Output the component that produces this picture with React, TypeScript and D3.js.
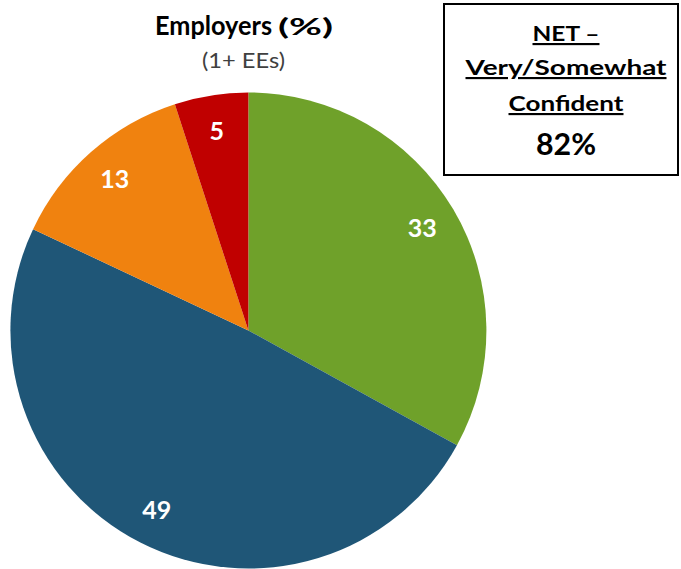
import React from "react";
import * as d3 from "d3";

const categories = ["Very confident", "Somewhat confident", "Not too confident", "Not at all confident"];
const values = [33, 49, 13, 5];
const colors = ["#6FA12A", "#1F5677", "#F0820F", "#C00000"];
const netLines = ["NET –", "Very/Somewhat", "Confident"];
const netValue = "82%";

const W = 681;
const H = 569;
const cx = 248.4;
const cy = 330.5;
const R = 238;
const labelR = 202;

export default function App() {
  const pie = d3.pie<number>().sort(null).value((d) => d)(values);
  const arc = d3.arc<d3.PieArcDatum<number>>().innerRadius(0).outerRadius(R);
  const labelArc = d3.arc<d3.PieArcDatum<number>>().innerRadius(labelR).outerRadius(labelR);
  const font = "Lato, 'Open Sans', sans-serif";

  const netLineY = [41, 75, 111];
  const netLineW = [67, 201, 115];

  return (
    <svg
      width={W}
      height={H}
      viewBox={`0 0 ${W} ${H}`}
      style={{ position: "absolute", left: 0, top: 0, background: "#fff" }}
    >
      <g transform={`translate(${cx},${cy})`}>
        {pie.map((d, i) => (
          <path key={categories[i]} d={arc(d) || ""} fill={colors[i]} />
        ))}
        {pie.map((d, i) => {
          const [x, y] = labelArc.centroid(d);
          return (
            <text
              key={"l" + i}
              x={x}
              y={y}
              dy="0.36em"
              textAnchor="middle"
              fill="#fff"
              fontFamily={font}
              fontWeight={700}
              fontSize={25}
            >
              {values[i]}
            </text>
          );
        })}
      </g>

      <text x={155} y={35} fontFamily={font} fontWeight={700} fontSize={26.5} fill="#000" textLength={117} lengthAdjust="spacingAndGlyphs">
        Employers
      </text>
      <text x={278} y={35} fontFamily={font} fontWeight={700} fontSize={23} fill="#000" textLength={55} lengthAdjust="spacingAndGlyphs">
        (%)
      </text>
      <text x={243.5} y={68} textAnchor="middle" fontFamily={font} fontSize={21} fill="#404040" textLength={83} lengthAdjust="spacingAndGlyphs">
        (1+ EEs)
      </text>

      <rect x={444} y={4} width={234} height={171} fill="#fff" stroke="#000" strokeWidth={2} />
      {netLines.map((t, i) => (
        <text
          key={t}
          x={566}
          y={netLineY[i]}
          textAnchor="middle"
          fontFamily={font}
          fontWeight={700}
          fontSize={21.5}
          fill="#000"
          textDecoration="underline"
          textLength={netLineW[i]}
          lengthAdjust="spacingAndGlyphs"
        >
          {t}
        </text>
      ))}
      <text x={566} y={155} textAnchor="middle" fontFamily={font} fontWeight={700} fontSize={30} fill="#000" textLength={60} lengthAdjust="spacingAndGlyphs">
        {netValue}
      </text>
    </svg>
  );
}
